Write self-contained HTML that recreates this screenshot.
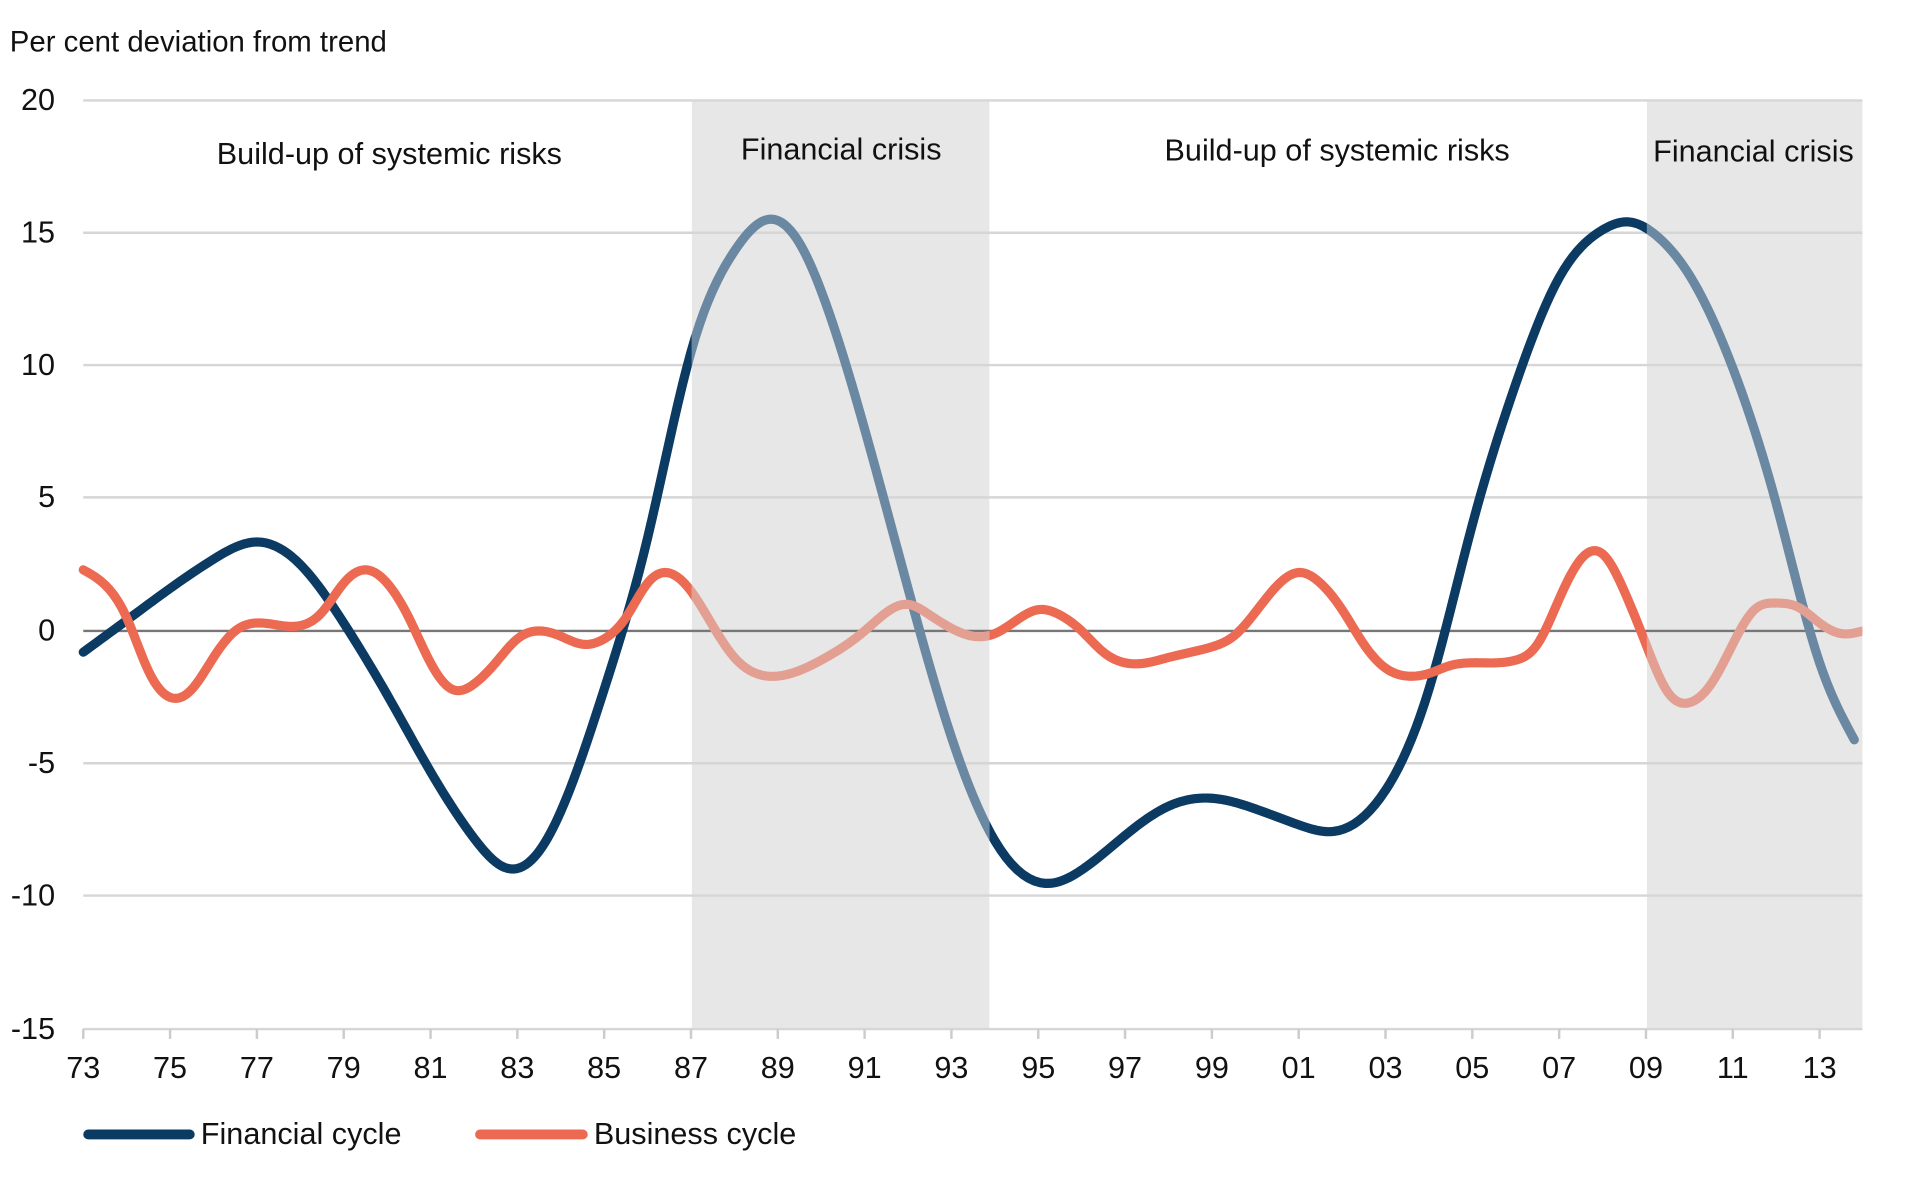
<!DOCTYPE html>
<html><head><meta charset="utf-8"><style>
html,body{margin:0;padding:0;background:#fff;}
svg{display:block}
text{font-family:"Liberation Sans Narrow","Liberation Sans",sans-serif;fill:#111;}
</style></head><body>
<svg id="s" width="1920" height="1181" viewBox="0 0 1568 964" preserveAspectRatio="none">
<defs>
<clipPath id="sh"><rect x="565" y="82" width="243" height="758"/><rect x="1345" y="82" width="176" height="758"/></clipPath>
<clipPath id="ns"><rect x="0" y="0" width="565" height="964"/><rect x="808" y="0" width="537" height="964"/></clipPath>
</defs>
<rect x="565" y="82" width="243" height="758" fill="#e7e7e7"/>
<rect x="1345" y="82" width="176" height="758" fill="#e7e7e7"/>
<g stroke="#d6d6d6" stroke-width="2">
<line x1="68" x2="1521" y1="82" y2="82"/><line x1="68" x2="1521" y1="190" y2="190"/>
<line x1="68" x2="1521" y1="298" y2="298"/><line x1="68" x2="1521" y1="406" y2="406"/>
<line x1="68" x2="1521" y1="623" y2="623"/><line x1="68" x2="1521" y1="731" y2="731"/>
<line x1="68" x2="1521" y1="840" y2="840"/>
</g>
<line x1="68" x2="1521" y1="515" y2="515" stroke="#777" stroke-width="2"/>
<g id="ticks" stroke="#ccc" stroke-width="2"></g>
<g id="lines"></g>
<text x="8" y="42" font-size="24">Per cent deviation from trend</text>
<g font-size="25" text-anchor="end">
<text x="45" y="90">20</text><text x="45" y="198">15</text><text x="45" y="306">10</text>
<text x="45" y="414">5</text><text x="45" y="523">0</text><text x="45" y="631">-5</text>
<text x="45" y="739">-10</text><text x="45" y="848">-15</text>
</g>
<g id="xl" font-size="25" text-anchor="middle"></g>
<g font-size="25" text-anchor="middle">
<text x="318" y="134">Build-up of systemic risks</text>
<text x="687" y="130">Financial crisis</text>
<text x="1092" y="131">Build-up of systemic risks</text>
<text x="1432" y="132">Financial crisis</text>
</g>
<line x1="72" x2="155" y1="926" y2="926" stroke="#0b3a63" stroke-width="8" stroke-linecap="round"/>
<text x="164" y="934" font-size="25">Financial cycle</text>
<line x1="392" x2="476" y1="926" y2="926" stroke="#ec6a52" stroke-width="8" stroke-linecap="round"/>
<text x="485" y="934" font-size="25">Business cycle</text>
</svg>
<script>
var X=function(y){return 68+(y-73)*35.45},Y=function(v){return 515-v*21.68};
var NS="http://www.w3.org/2000/svg";
var xl=document.getElementById('xl'),tk=document.getElementById('ticks');
for(var y=73;y<=113;y+=2){var t=document.createElementNS(NS,'text');t.setAttribute('x',X(y));t.setAttribute('y',880);t.textContent=String(y%100).padStart(2,'0');xl.appendChild(t);
var l=document.createElementNS(NS,'line');l.setAttribute('x1',X(y));l.setAttribute('x2',X(y));l.setAttribute('y1',840);l.setAttribute('y2',848);tk.appendChild(l);}
var fin=[[73,-0.8],[74,0.4],[75,1.6],[76,2.7],[77,3.35],[78,2.5],[79,0.3],[80,-2.4],[81,-5.3],[82,-7.8],[82.7,-8.9],[83.4,-8.5],[84,-6.8],[85,-2.2],[86,3.5],[87,10.5],[88,14.3],[88.8,15.5],[89.5,14.6],[90,12.8],[91,7.6],[92,1.6],[93,-4],[94,-7.9],[95.3,-9.5],[96,-9],[97,-7.7],[98,-6.6],[99,-6.3],[100,-6.7],[101,-7.3],[101.8,-7.55],[103,-6],[104,-2.2],[105,4],[106,9.3],[107,13.3],[108,15.1],[108.6,15.4],[109.3,14.8],[110,13.4],[111,9.9],[112,4.8],[113,-1.2],[113.8,-4.1]];
var bus=[[73,2.3],[74,0.5],[74.5,-1.5],[75,-2.5],[75.5,-2.2],[76,-1],[76.5,0],[77,0.3],[78,0.2],[78.5,0.7],[79,1.8],[79.5,2.3],[80,1.8],[80.5,0.5],[81,-1.2],[81.5,-2.2],[82,-2],[82.5,-1.2],[83,-0.3],[83.5,0],[84,-0.2],[84.5,-0.5],[85,-0.3],[85.5,0.5],[86,1.8],[86.4,2.2],[87,1.5],[87.5,0.2],[88,-1],[88.5,-1.6],[89,-1.7],[90,-1.1],[91,0],[92,1],[92.5,0.6],[93,0.1],[93.5,-0.2],[94,-0.1],[94.5,0.4],[95,0.8],[95.5,0.6],[96,0],[96.5,-0.8],[97,-1.2],[97.5,-1.2],[98,-1],[99,-0.6],[99.5,-0.2],[100,0.7],[100.5,1.7],[101,2.2],[101.5,1.8],[102,0.8],[102.5,-0.5],[103,-1.4],[103.5,-1.7],[104,-1.6],[104.5,-1.3],[105,-1.2],[106,-1.1],[106.5,-0.5],[107,1.2],[107.5,2.7],[108,2.9],[108.5,1.5],[109,-0.5],[109.5,-2.3],[110,-2.7],[110.5,-2],[111,-0.5],[111.5,0.8],[112,1.05],[112.5,0.9],[113,0.3],[113.5,-0.1],[114,0]];
function spline(d){var n=d.length,x=d.map(a=>a[0]),y=d.map(a=>a[1]),h=[],al=[],l=[1],mu=[0],z=[0],c=new Array(n).fill(0),b=[],dd=[];
for(var i=0;i<n-1;i++)h[i]=x[i+1]-x[i];
for(i=1;i<n-1;i++)al[i]=3/h[i]*(y[i+1]-y[i])-3/h[i-1]*(y[i]-y[i-1]);
for(i=1;i<n-1;i++){l[i]=2*(x[i+1]-x[i-1])-h[i-1]*mu[i-1];mu[i]=h[i]/l[i];z[i]=(al[i]-h[i-1]*z[i-1])/l[i];}
for(i=n-2;i>=0;i--){c[i]=(i>0?z[i]:0)-mu[i]*c[i+1];b[i]=(y[i+1]-y[i])/h[i]-h[i]*(c[i+1]+2*c[i])/3;dd[i]=(c[i+1]-c[i])/(3*h[i]);}
var s='';for(i=0;i<n-1;i++){for(var k=0;k<10;k++){var t=h[i]*k/10,v=y[i]+b[i]*t+c[i]*t*t+dd[i]*t*t*t;s+=(s?'L':'M')+X(x[i]+t).toFixed(2)+','+Y(v).toFixed(2);}}
s+='L'+X(x[n-1])+','+Y(y[n-1]);return s;}
var g=document.getElementById('lines');
function add(d,c,clip){var e=document.createElementNS(NS,'path');e.setAttribute('d',d);e.setAttribute('fill','none');e.setAttribute('stroke',c);e.setAttribute('stroke-width',7.5);e.setAttribute('stroke-linecap','round');e.setAttribute('stroke-linejoin','round');e.setAttribute('clip-path','url(#'+clip+')');g.appendChild(e);}
var fp=spline(fin),bp=spline(bus);
add(fp,'#0b3a63','ns');add(fp,'#6a88a2','sh');add(bp,'#ec6a52','ns');add(bp,'#e3a092','sh');
</script>
</body></html>
